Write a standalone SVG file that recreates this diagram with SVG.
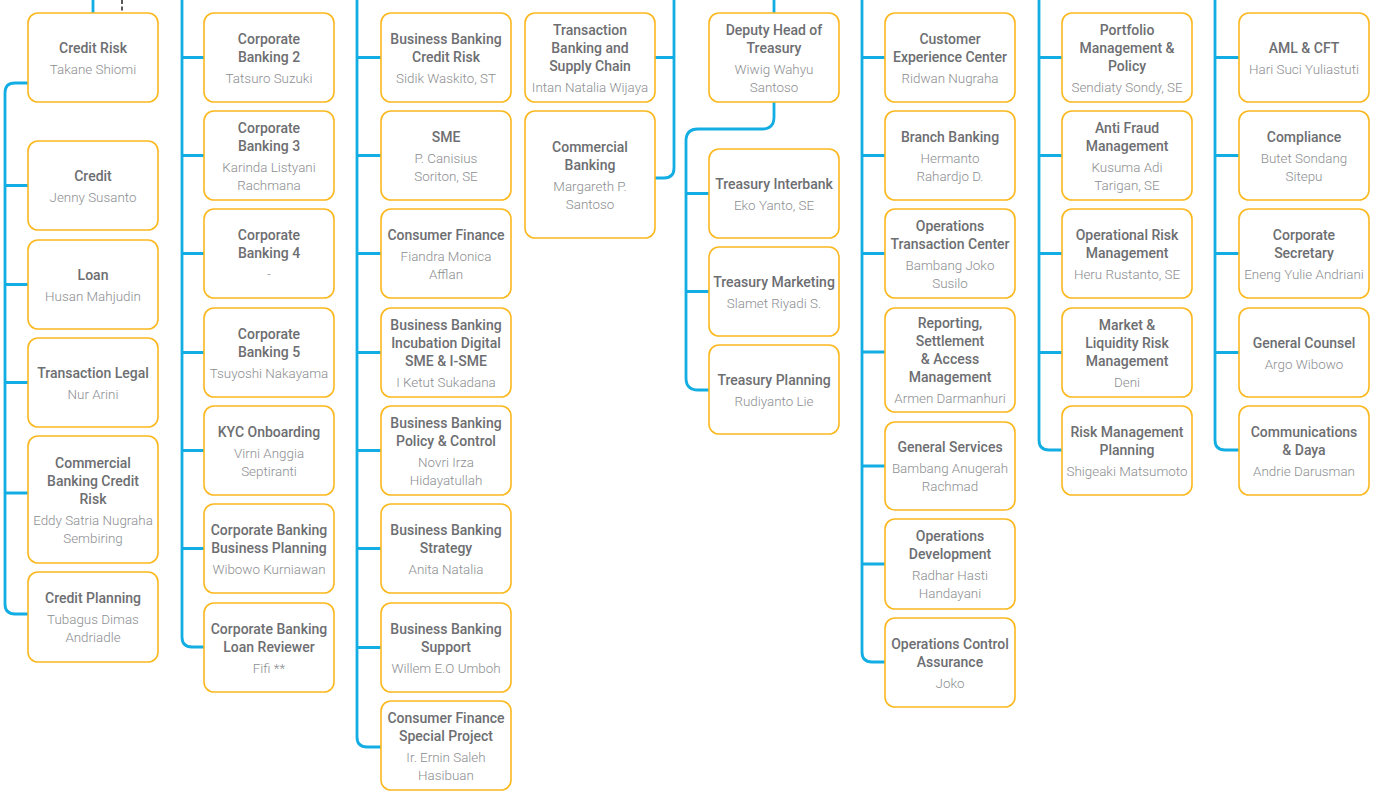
<svg xmlns="http://www.w3.org/2000/svg" width="1375" height="799" viewBox="0 0 1375 799">
<style>
.box{fill:#fff;stroke:#FBB81F;stroke-width:1.6}
.t{font-family:Roboto,"Liberation Sans",Arial,sans-serif;font-weight:500;font-size:14px;fill:#6d6e71;text-anchor:middle}
.n{font-family:Roboto,"Liberation Sans",Arial,sans-serif;font-weight:300;font-size:13.4px;fill:#8c8e91;text-anchor:middle}
.c{fill:none;stroke:#12ADE2;stroke-width:2.8}
.d{fill:none;stroke:#58595b;stroke-width:2;stroke-dasharray:4 2.5}
</style>
<rect width="1375" height="799" fill="#fff"/>
<g id="connectors">
<path class="c" d="M93 0V13"/>
<path class="d" d="M122 0V13"/>
<path class="c" d="M28 83H15Q5 83 5 93V604Q5 614 15 614H28M5 185.5H28M5 284.5H28M5 382.5H28M5 493H28"/>
<path class="c" d="M182 0V637Q182 647 192 647H204M182 57.5H204M182 155.5H204M182 253.5H204M182 352.5H204M182 450.5H204M182 548.5H204"/>
<path class="c" d="M357 0V737Q357 747 367 747H381M357 57.5H381M357 155.5H381M357 253.5H381M357 352.5H381M357 450.5H381M357 548.5H381M357 647.5H381"/>
<path class="c" d="M674 0V168Q674 178 664 178H655M655 57.5H674"/>
<path class="c" d="M774 0V13M774 102V117Q774 129 762 129H698Q686 129 686 141V378Q686 390 698 390H709M686 193.5H709M686 291.5H709"/>
<path class="c" d="M862 0V652Q862 662 872 662H885M862 57.5H885M862 155.5H885M862 253.5H885M862 352H885M862 466H885M862 564H885"/>
<path class="c" d="M1039 0V440Q1039 450 1049 450H1062M1039 57.5H1062M1039 155.5H1062M1039 253.5H1062M1039 352.5H1062"/>
<path class="c" d="M1215 0V440Q1215 450 1225 450H1239M1215 57.5H1239M1215 155.5H1239M1215 253.5H1239M1215 352.5H1239"/>
</g>

<g id="credit-risk"><rect class="box" x="28" y="13" width="130" height="89" rx="10"/><text class="t" x="93" y="52.7">Credit Risk</text><text class="n" x="93" y="73.7">Takane Shiomi</text></g>
<g id="credit"><rect class="box" x="28" y="141" width="130" height="89" rx="10"/><text class="t" x="93" y="180.7">Credit</text><text class="n" x="93" y="201.7">Jenny Susanto</text></g>
<g id="loan"><rect class="box" x="28" y="240" width="130" height="89" rx="10"/><text class="t" x="93" y="279.7">Loan</text><text class="n" x="93" y="300.7">Husan Mahjudin</text></g>
<g id="transaction-legal"><rect class="box" x="28" y="338" width="130" height="89" rx="10"/><text class="t" x="93" y="377.7">Transaction Legal</text><text class="n" x="93" y="398.7">Nur Arini</text></g>
<g id="commercial-banking-credit-risk"><rect class="box" x="28" y="436" width="130" height="127" rx="10"/><text class="t"><tspan x="93" y="467.7">Commercial</tspan><tspan x="93" y="485.7">Banking Credit</tspan><tspan x="93" y="503.7">Risk</tspan></text><text class="n"><tspan x="93" y="524.7">Eddy Satria Nugraha</tspan><tspan x="93" y="542.7">Sembiring</tspan></text></g>
<g id="credit-planning"><rect class="box" x="28" y="572" width="130" height="90" rx="10"/><text class="t" x="93" y="603.2">Credit Planning</text><text class="n"><tspan x="93" y="624.2">Tubagus Dimas</tspan><tspan x="93" y="642.2">Andriadle</tspan></text></g>

<g id="corporate-banking-2"><rect class="box" x="204" y="13" width="130" height="89" rx="10"/><text class="t"><tspan x="269" y="43.7">Corporate</tspan><tspan x="269" y="61.7">Banking 2</tspan></text><text class="n" x="269" y="82.7">Tatsuro Suzuki</text></g>
<g id="corporate-banking-3"><rect class="box" x="204" y="111" width="130" height="89" rx="10"/><text class="t"><tspan x="269" y="132.7">Corporate</tspan><tspan x="269" y="150.7">Banking 3</tspan></text><text class="n"><tspan x="269" y="171.7">Karinda Listyani</tspan><tspan x="269" y="189.7">Rachmana</tspan></text></g>
<g id="corporate-banking-4"><rect class="box" x="204" y="209" width="130" height="89" rx="10"/><text class="t"><tspan x="269" y="239.7">Corporate</tspan><tspan x="269" y="257.7">Banking 4</tspan></text><text class="n" x="269" y="278.7">-</text></g>
<g id="corporate-banking-5"><rect class="box" x="204" y="308" width="130" height="89" rx="10"/><text class="t"><tspan x="269" y="338.7">Corporate</tspan><tspan x="269" y="356.7">Banking 5</tspan></text><text class="n" x="269" y="377.7">Tsuyoshi Nakayama</text></g>
<g id="kyc-onboarding"><rect class="box" x="204" y="406" width="130" height="89" rx="10"/><text class="t" x="269" y="436.7">KYC Onboarding</text><text class="n"><tspan x="269" y="457.7">Virni Anggia</tspan><tspan x="269" y="475.7">Septiranti</tspan></text></g>
<g id="corporate-banking-business-planning"><rect class="box" x="204" y="504" width="130" height="89" rx="10"/><text class="t"><tspan x="269" y="534.7">Corporate Banking</tspan><tspan x="269" y="552.7">Business Planning</tspan></text><text class="n" x="269" y="573.7">Wibowo Kurniawan</text></g>
<g id="corporate-banking-loan-reviewer"><rect class="box" x="204" y="603" width="130" height="89" rx="10"/><text class="t"><tspan x="269" y="633.7">Corporate Banking</tspan><tspan x="269" y="651.7">Loan Reviewer</tspan></text><text class="n" x="269" y="672.7">Fifi **</text></g>

<g id="business-banking-credit-risk"><rect class="box" x="381" y="13" width="130" height="89" rx="10"/><text class="t"><tspan x="446" y="43.7">Business Banking</tspan><tspan x="446" y="61.7">Credit Risk</tspan></text><text class="n" x="446" y="82.7">Sidik Waskito, ST</text></g>
<g id="sme"><rect class="box" x="381" y="111" width="130" height="89" rx="10"/><text class="t" x="446" y="141.7">SME</text><text class="n"><tspan x="446" y="162.7">P. Canisius</tspan><tspan x="446" y="180.7">Soriton, SE</tspan></text></g>
<g id="consumer-finance"><rect class="box" x="381" y="209" width="130" height="89" rx="10"/><text class="t" x="446" y="239.7">Consumer Finance</text><text class="n"><tspan x="446" y="260.7">Fiandra Monica</tspan><tspan x="446" y="278.7">Afflan</tspan></text></g>
<g id="business-banking-incubation"><rect class="box" x="381" y="308" width="130" height="89" rx="10"/><text class="t"><tspan x="446" y="329.7">Business Banking</tspan><tspan x="446" y="347.7">Incubation Digital</tspan><tspan x="446" y="365.7">SME &amp; I-SME</tspan></text><text class="n" x="446" y="386.7">I Ketut Sukadana</text></g>
<g id="business-banking-policy"><rect class="box" x="381" y="406" width="130" height="89" rx="10"/><text class="t"><tspan x="446" y="427.7">Business Banking</tspan><tspan x="446" y="445.7">Policy &amp; Control</tspan></text><text class="n"><tspan x="446" y="466.7">Novri Irza</tspan><tspan x="446" y="484.7">Hidayatullah</tspan></text></g>
<g id="business-banking-strategy"><rect class="box" x="381" y="504" width="130" height="89" rx="10"/><text class="t"><tspan x="446" y="534.7">Business Banking</tspan><tspan x="446" y="552.7">Strategy</tspan></text><text class="n" x="446" y="573.7">Anita Natalia</text></g>
<g id="business-banking-support"><rect class="box" x="381" y="603" width="130" height="89" rx="10"/><text class="t"><tspan x="446" y="633.7">Business Banking</tspan><tspan x="446" y="651.7">Support</tspan></text><text class="n" x="446" y="672.7">Willem E.O Umboh</text></g>
<g id="consumer-finance-special-project"><rect class="box" x="381" y="701" width="130" height="89" rx="10"/><text class="t"><tspan x="446" y="722.7">Consumer Finance</tspan><tspan x="446" y="740.7">Special Project</tspan></text><text class="n"><tspan x="446" y="761.7">Ir. Ernin Saleh</tspan><tspan x="446" y="779.7">Hasibuan</tspan></text></g>

<g id="transaction-banking"><rect class="box" x="525" y="13" width="130" height="89" rx="10"/><text class="t"><tspan x="590" y="34.7">Transaction</tspan><tspan x="590" y="52.7">Banking and</tspan><tspan x="590" y="70.7">Supply Chain</tspan></text><text class="n" x="590" y="91.7">Intan Natalia Wijaya</text></g>
<g id="commercial-banking"><rect class="box" x="525" y="111" width="130" height="127" rx="10"/><text class="t"><tspan x="590" y="151.7">Commercial</tspan><tspan x="590" y="169.7">Banking</tspan></text><text class="n"><tspan x="590" y="190.7">Margareth P.</tspan><tspan x="590" y="208.7">Santoso</tspan></text></g>

<g id="deputy-head-of-treasury"><rect class="box" x="709" y="13" width="130" height="89" rx="10"/><text class="t"><tspan x="774" y="34.7">Deputy Head of</tspan><tspan x="774" y="52.7">Treasury</tspan></text><text class="n"><tspan x="774" y="73.7">Wiwig Wahyu</tspan><tspan x="774" y="91.7">Santoso</tspan></text></g>
<g id="treasury-interbank"><rect class="box" x="709" y="149" width="130" height="89" rx="10"/><text class="t" x="774" y="188.7">Treasury Interbank</text><text class="n" x="774" y="209.7">Eko Yanto, SE</text></g>
<g id="treasury-marketing"><rect class="box" x="709" y="247" width="130" height="89" rx="10"/><text class="t" x="774" y="286.7">Treasury Marketing</text><text class="n" x="774" y="307.7">Slamet Riyadi S.</text></g>
<g id="treasury-planning"><rect class="box" x="709" y="345" width="130" height="89" rx="10"/><text class="t" x="774" y="384.7">Treasury Planning</text><text class="n" x="774" y="405.7">Rudiyanto Lie</text></g>

<g id="customer-experience-center"><rect class="box" x="885" y="13" width="130" height="89" rx="10"/><text class="t"><tspan x="950" y="43.7">Customer</tspan><tspan x="950" y="61.7">Experience Center</tspan></text><text class="n" x="950" y="82.7">Ridwan Nugraha</text></g>
<g id="branch-banking"><rect class="box" x="885" y="111" width="130" height="89" rx="10"/><text class="t" x="950" y="141.7">Branch Banking</text><text class="n"><tspan x="950" y="162.7">Hermanto</tspan><tspan x="950" y="180.7">Rahardjo D.</tspan></text></g>
<g id="operations-transaction-center"><rect class="box" x="885" y="209" width="130" height="89" rx="10"/><text class="t"><tspan x="950" y="230.7">Operations</tspan><tspan x="950" y="248.7">Transaction Center</tspan></text><text class="n"><tspan x="950" y="269.7">Bambang Joko</tspan><tspan x="950" y="287.7">Susilo</tspan></text></g>
<g id="reporting-settlement"><rect class="box" x="885" y="308" width="130" height="104" rx="10"/><text class="t"><tspan x="950" y="328.2">Reporting,</tspan><tspan x="950" y="346.2">Settlement</tspan><tspan x="950" y="364.2">&amp; Access</tspan><tspan x="950" y="382.2">Management</tspan></text><text class="n" x="950" y="403.2">Armen Darmanhuri</text></g>
<g id="general-services"><rect class="box" x="885" y="422" width="130" height="88" rx="10"/><text class="t" x="950" y="452.2">General Services</text><text class="n"><tspan x="950" y="473.2">Bambang Anugerah</tspan><tspan x="950" y="491.2">Rachmad</tspan></text></g>
<g id="operations-development"><rect class="box" x="885" y="519" width="130" height="90" rx="10"/><text class="t"><tspan x="950" y="541.2">Operations</tspan><tspan x="950" y="559.2">Development</tspan></text><text class="n"><tspan x="950" y="580.2">Radhar Hasti</tspan><tspan x="950" y="598.2">Handayani</tspan></text></g>
<g id="operations-control-assurance"><rect class="box" x="885" y="618" width="130" height="89" rx="10"/><text class="t"><tspan x="950" y="648.7">Operations Control</tspan><tspan x="950" y="666.7">Assurance</tspan></text><text class="n" x="950" y="687.7">Joko</text></g>

<g id="portfolio-management"><rect class="box" x="1062" y="13" width="130" height="89" rx="10"/><text class="t"><tspan x="1127" y="34.7">Portfolio</tspan><tspan x="1127" y="52.7">Management &amp;</tspan><tspan x="1127" y="70.7">Policy</tspan></text><text class="n" x="1127" y="91.7">Sendiaty Sondy, SE</text></g>
<g id="anti-fraud-management"><rect class="box" x="1062" y="111" width="130" height="89" rx="10"/><text class="t"><tspan x="1127" y="132.7">Anti Fraud</tspan><tspan x="1127" y="150.7">Management</tspan></text><text class="n"><tspan x="1127" y="171.7">Kusuma Adi</tspan><tspan x="1127" y="189.7">Tarigan, SE</tspan></text></g>
<g id="operational-risk-management"><rect class="box" x="1062" y="209" width="130" height="89" rx="10"/><text class="t"><tspan x="1127" y="239.7">Operational Risk</tspan><tspan x="1127" y="257.7">Management</tspan></text><text class="n" x="1127" y="278.7">Heru Rustanto, SE</text></g>
<g id="market-liquidity-risk"><rect class="box" x="1062" y="308" width="130" height="89" rx="10"/><text class="t"><tspan x="1127" y="329.7">Market &amp;</tspan><tspan x="1127" y="347.7">Liquidity Risk</tspan><tspan x="1127" y="365.7">Management</tspan></text><text class="n" x="1127" y="386.7">Deni</text></g>
<g id="risk-management-planning"><rect class="box" x="1062" y="406" width="130" height="89" rx="10"/><text class="t"><tspan x="1127" y="436.7">Risk Management</tspan><tspan x="1127" y="454.7">Planning</tspan></text><text class="n" x="1127" y="475.7">Shigeaki Matsumoto</text></g>

<g id="aml-cft"><rect class="box" x="1239" y="13" width="130" height="89" rx="10"/><text class="t" x="1304" y="52.7">AML &amp; CFT</text><text class="n" x="1304" y="73.7">Hari Suci Yuliastuti</text></g>
<g id="compliance"><rect class="box" x="1239" y="111" width="130" height="89" rx="10"/><text class="t" x="1304" y="141.7">Compliance</text><text class="n"><tspan x="1304" y="162.7">Butet Sondang</tspan><tspan x="1304" y="180.7">Sitepu</tspan></text></g>
<g id="corporate-secretary"><rect class="box" x="1239" y="209" width="130" height="89" rx="10"/><text class="t"><tspan x="1304" y="239.7">Corporate</tspan><tspan x="1304" y="257.7">Secretary</tspan></text><text class="n" x="1304" y="278.7">Eneng Yulie Andriani</text></g>
<g id="general-counsel"><rect class="box" x="1239" y="308" width="130" height="89" rx="10"/><text class="t" x="1304" y="347.7">General Counsel</text><text class="n" x="1304" y="368.7">Argo Wibowo</text></g>
<g id="communications-daya"><rect class="box" x="1239" y="406" width="130" height="89" rx="10"/><text class="t"><tspan x="1304" y="436.7">Communications</tspan><tspan x="1304" y="454.7">&amp; Daya</tspan></text><text class="n" x="1304" y="475.7">Andrie Darusman</text></g>
</svg>
